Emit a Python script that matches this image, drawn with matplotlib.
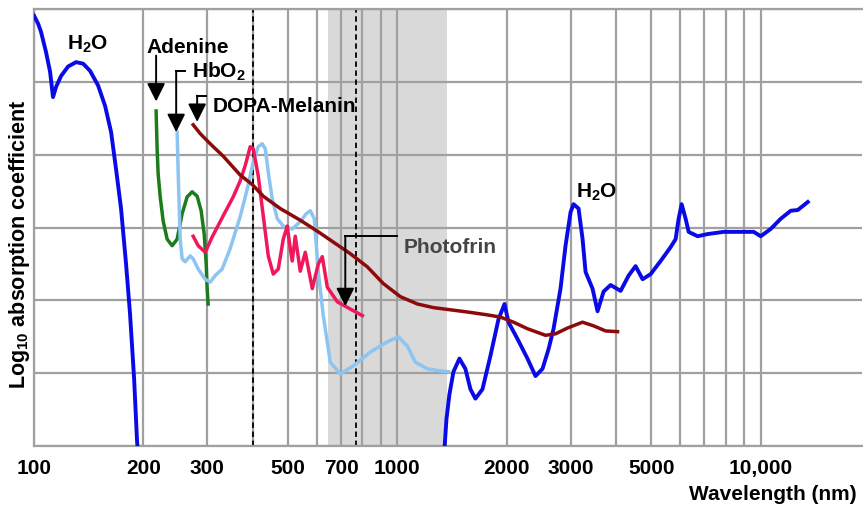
import matplotlib
matplotlib.use('Agg')
import matplotlib.pyplot as plt
from matplotlib.ticker import FixedLocator, NullFormatter

plt.rcParams['font.family'] = ['Liberation Sans', 'DejaVu Sans']
plt.rcParams['font.weight'] = 'bold'
plt.rcParams['mathtext.fontset'] = 'custom'
plt.rcParams['mathtext.rm'] = 'Liberation Sans:bold'
plt.rcParams['mathtext.it'] = 'Liberation Sans:bold'
plt.rcParams['mathtext.bf'] = 'Liberation Sans:bold'
plt.rcParams['mathtext.default'] = 'rm'

# ---------------- data (wavelength in nm, log10 absorption in grid units) ----------------
h2o_uv_nm = [100, 102.6, 104.5, 107.9, 110.7, 112.8, 115.0, 118.7, 124.1, 130.5, 136.5, 142.7,
             150.1, 156.9, 163.0, 168.2, 173.6, 179.2, 183.8, 188.6, 192.2, 193.4]
h2o_uv_val = [5.91, 5.80, 5.69, 5.41, 5.14, 4.79, 4.93, 5.08, 5.21, 5.27, 5.25, 5.15,
              4.95, 4.67, 4.31, 3.80, 3.26, 2.50, 1.81, 0.92, 0.05, -0.07]

h2o_ir_nm = [1348, 1365, 1391, 1427, 1482, 1539, 1589, 1640, 1715, 1804, 1898, 1972, 2022,
             2141, 2281, 2400, 2509, 2607, 2691, 2812, 2903, 2997, 3054, 3153, 3234, 3296,
             3445, 3556, 3694, 3862, 4116, 4330, 4525, 4731, 4978, 5303, 5650, 5832, 5944,
             6059, 6214, 6334, 6706, 7145, 7909, 8810, 9566, 10000, 10654, 11354, 12094,
             12646, 13475]
h2o_ir_val = [-0.04, 0.37, 0.71, 1.02, 1.20, 1.06, 0.78, 0.65, 0.78, 1.24, 1.74, 1.95, 1.70,
              1.47, 1.20, 0.96, 1.06, 1.33, 1.61, 2.16, 2.75, 3.21, 3.32, 3.26, 2.84, 2.39,
              2.16, 1.85, 2.12, 2.21, 2.13, 2.34, 2.47, 2.29, 2.36, 2.54, 2.73, 2.84, 3.12,
              3.32, 3.12, 2.94, 2.88, 2.91, 2.94, 2.94, 2.94, 2.88, 2.98, 3.12, 3.23,
              3.24, 3.35]

adenine_nm = [216.8, 218.2, 219.6, 222.4, 226.7, 232.5, 240.0, 247.7, 255.7, 263.9, 272.4,
              281.2, 288.4, 294.0, 297.8, 299.6, 301.5]
adenine_val = [4.60, 4.08, 3.74, 3.43, 3.09, 2.84, 2.75, 2.84, 3.19, 3.42, 3.49,
               3.43, 3.23, 2.91, 2.50, 2.16, 1.95]

hbo2_nm = [247.7, 249.3, 250.9, 252.5, 255.7, 260.6, 269.1, 274.2, 283.1, 295.9, 305.4, 315.2,
           329.5, 346.6, 369.4, 386.3, 401.2, 414.1, 424.8, 433.0, 441.3, 452.6, 467.2, 485.3,
           513.6, 540.5, 561.5, 576.0, 590.7, 605.9, 625.4, 653.9, 696.6, 756.7, 842.6, 938.6,
           1006.5, 1065.4, 1120.9, 1209.1, 1313.5, 1382]
hbo2_val = [4.31, 3.76, 3.30, 2.84, 2.57, 2.53, 2.61, 2.57, 2.43, 2.29, 2.25, 2.34,
            2.43, 2.71, 3.15, 3.53, 3.90, 4.11, 4.15, 4.08, 3.76, 3.39, 3.12, 3.02,
            2.98, 3.08, 3.19, 3.23, 3.12, 2.39, 1.79, 1.15, 0.99, 1.10, 1.29, 1.43,
            1.50, 1.37, 1.15, 1.06, 1.03, 1.02]

photofrin_nm = [274.2, 283.1, 295.9, 309.3, 331.6, 353.3, 369.4, 381.3, 393.6, 401.2, 414.1,
                427.5, 441.3, 455.5, 470.2, 485.3, 497.7, 507.3, 513.6, 523.6, 540.5, 557.9,
                583.3, 605.9, 621.5, 641.6, 683.5, 742.4, 801.2]
photofrin_val = [2.88, 2.75, 2.66, 2.87, 3.16, 3.42, 3.64, 3.85, 4.11, 4.08, 3.71,
                 3.16, 2.61, 2.36, 2.43, 2.84, 3.02, 2.71, 2.54, 2.88, 2.40, 2.66,
                 2.16, 2.50, 2.60, 2.18, 1.98, 1.88, 1.79]

melanin_nm = [274.2, 286.6, 305.4, 331.6, 369.4, 398.7, 427.5, 476.2, 540.5, 602.1, 666.3,
              742.4, 826.8, 915.0, 1019.3, 1135.3, 1256.8, 1399.6, 1558.8, 1770, 1921.8,
              2087.5, 2281, 2556, 2724, 2940, 3233, 3467, 3741, 4037]
melanin_val = [4.41, 4.29, 4.15, 3.98, 3.72, 3.59, 3.43, 3.26, 3.10, 2.95, 2.80,
               2.64, 2.46, 2.23, 2.05, 1.95, 1.90, 1.87, 1.84, 1.80, 1.77,
               1.70, 1.61, 1.52, 1.54, 1.62, 1.70, 1.65, 1.58, 1.57]

tick_nm = [100, 200, 300, 500, 700, 1000, 2000, 3000, 5000, 10000]
tick_labels = ['100', '200', '300', '500', '700', '1000', '2000', '3000', '5000', '10,000']
grid_nm = [200, 300, 400, 500, 600, 700, 800, 900, 1000,
           2000, 3000, 4000, 5000, 6000, 7000, 8000, 9000, 10000]
window_nm = [645, 1370]
dashed_nm = [400, 770]

# ---------------- figure ----------------
fig = plt.figure(figsize=(8.63, 5.10), dpi=100)
ax = fig.add_axes([34 / 863, 63 / 510, 828 / 863, 437 / 510])
ax.set_xscale('log')
ax.set_xlim(100, 19000)
ax.set_ylim(0, 6)

ax.xaxis.set_major_locator(FixedLocator(tick_nm))
ax.xaxis.set_minor_locator(FixedLocator(grid_nm))
ax.xaxis.set_minor_formatter(NullFormatter())
ax.set_xticklabels(tick_labels)
ax.set_yticks(range(7))
ax.set_yticklabels([])
ax.tick_params(which='both', length=0, labelsize=15, pad=9)
ax.set_axisbelow(True)
gridcol = '#a0a0a0'
ax.grid(True, which='both', axis='x', color=gridcol, lw=1.6)
ax.grid(True, which='major', axis='y', color=gridcol, lw=1.6)
for s in ['left', 'bottom', 'top']:
    ax.spines[s].set_color(gridcol)
    ax.spines[s].set_linewidth(1.6)
ax.spines['right'].set_visible(False)

ax.axvspan(window_nm[0], window_nm[1], color='#d9d9d9', zorder=0.2, lw=0)
for d in dashed_nm:
    ax.axvline(d, color='black', lw=1.3, ls=(0, (3, 2)), zorder=1.6)

lw = 2.5
ax.plot(h2o_uv_nm, h2o_uv_val, color='#0a0ae6', lw=2.8, solid_joinstyle='round', zorder=3)
ax.plot(h2o_ir_nm, h2o_ir_val, color='#0a0ae6', lw=2.8, solid_joinstyle='round', zorder=3)
ax.plot(adenine_nm, adenine_val, color='#1c7c1c', lw=lw, solid_joinstyle='round', zorder=3)
ax.plot(hbo2_nm, hbo2_val, color='#8cc4f2', lw=lw, solid_joinstyle='round', zorder=3)
ax.plot(photofrin_nm, photofrin_val, color='#f0185a', lw=lw, solid_joinstyle='round', zorder=3)
ax.plot(melanin_nm, melanin_val, color='#8c0a0a', lw=lw, solid_joinstyle='round', zorder=3)

# ---------------- annotations ----------------
fs = 15
ax.text(140.9, 5.45, 'H$_2$O', fontsize=fs, ha='center', va='baseline')
ax.text(3533, 3.42, 'H$_2$O', fontsize=fs, ha='center', va='baseline')

ap = dict(arrowstyle='-|>,head_length=1.1,head_width=0.55', mutation_scale=10,
          lw=1.4, color='black', shrinkA=0, shrinkB=0)
# Adenine
ax.text(264.8, 5.41, 'Adenine', fontsize=fs, ha='center', va='baseline')
ax.annotate('', xy=(216.8, 4.73), xytext=(216.8, 5.36), arrowprops=ap)
# HbO2
ax.text(272.4, 5.07, 'HbO$_2$', fontsize=fs, ha='left', va='baseline')
ax.plot([246.2, 260.6], [5.15, 5.15], color='black', lw=1.4)
ax.annotate('', xy=(246.2, 4.31), xytext=(246.2, 5.15), arrowprops=ap)
# DOPA-Melanin
ax.text(309.3, 4.60, 'DOPA-Melanin', fontsize=fs, ha='left', va='baseline')
ax.plot([281.2, 297.8], [4.81, 4.81], color='black', lw=1.4)
ax.annotate('', xy=(281.2, 4.45), xytext=(281.2, 4.81), arrowprops=ap)
# Photofrin
ax.text(1038.7, 2.66, 'Photofrin', fontsize=fs, ha='left', va='baseline', color='#454545')
ax.plot([719, 1000], [2.885, 2.885], color='black', lw=1.4, zorder=4)
ax.annotate('', xy=(719, 1.92), xytext=(719, 2.885), arrowprops=ap, zorder=4)

fig.text(20 / 863, 1 - 244 / 510, 'Log$_{10}$ absorption coefficient', rotation=90,
         fontsize=15.5, ha='center', va='center')
fig.text(857 / 863, 1 - 495 / 510, 'Wavelength (nm)', fontsize=15, ha='right', va='center')

fig.savefig('out.png', dpi=100)
